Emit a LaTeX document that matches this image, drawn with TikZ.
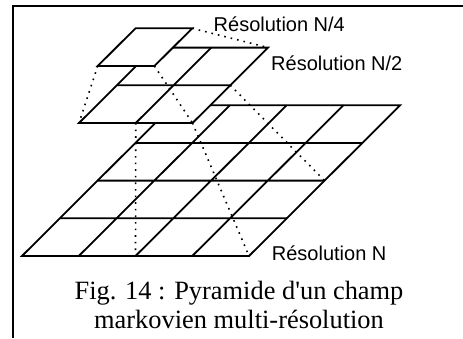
\documentclass[tikz,border=0pt]{standalone}
\usepackage{fontspec}
\setmainfont{Liberation Serif}
\newfontfamily\labelfont{Liberation Sans}
\usetikzlibrary{positioning}

\begin{document}
\begin{tikzpicture}[x=1pt,y=-1pt,
  gridline/.style={line width=1.8pt},
  proj/.style={line width=1.6pt,dash pattern=on 1.6pt off 5pt},
  reso/.style={font=\labelfont\fontsize{20}{24}\selectfont,anchor=base west,inner sep=0pt},
  capt/.style={font=\fontsize{26.4}{30}\selectfont,anchor=base,inner sep=0pt}]
  \useasboundingbox (0,0) rectangle (463,338);
  \draw[line width=2.2pt] (463,6) -- (13,6) -- (13,338);

  % resolution N
  \begin{scope}[shift={(22,256)},x={(56.75pt,0pt)},y={(37.8pt,37.7pt)}]
    \draw[gridline] (0,0)--(4,0)--(4,4)--(0,4)--cycle;
    \draw[gridline] (0,1)--(4,1) (0,2)--(4,2) (0,3)--(4,3)
      (1,0)--(1,4) (2,0)--(2,4) (3,0)--(3,4);
    \coordinate (f2) at (2,0);
    \coordinate (f4) at (4,0);
    \coordinate (fr) at (4,2);
  \end{scope}

  % resolution N/2
  \begin{scope}[shift={(79,123)},x={(56.75pt,0pt)},y={(37.8pt,37.7pt)}]
    \filldraw[gridline,fill=white] (0,0)--(2,0)--(2,2)--(0,2)--cycle;
    \draw[gridline] (0,1)--(2,1) (1,0)--(1,2);
    \coordinate (h0) at (0,0);
    \coordinate (hm) at (1,0);
    \coordinate (h1) at (2,0);
    \coordinate (hr) at (2,1);
    \coordinate (h2) at (2,2);
  \end{scope}
  \draw[proj](hm)--(f2);
  \draw[proj](h1)--(f4);
  \draw[proj](hr)--(fr);

  % resolution N/4
  \begin{scope}[shift={(97.7,66)},x={(56.75pt,0pt)},y={(37.8pt,37.7pt)}]
    \filldraw[gridline,fill=white] (0,0)--(1,0)--(1,1)--(0,1)--cycle;
    \coordinate (q0) at (0,0);
    \coordinate (q1) at (1,0);
    \coordinate (q2) at (1,1);
  \end{scope}
  \draw[proj](q0)--(h0);
  \draw[proj](q1)--(h1);
  \draw[proj](q2)--(h2);

  \node[reso] (lq) at (213.5,31.7) {Résolution N/4};
  \node[reso] (lh) at (271,70) {Résolution N/2};
  \node[reso] (lf) at (271.7,260.7) {Résolution N};

  \node[capt] (cap1) at (239,299.7) {Fig. 14 : Pyramide d\textquotesingle un champ};
  \node[capt,below=28.5pt of cap1.base,anchor=base] (cap2) {markovien multi-résolution};
\end{tikzpicture}
\end{document}
